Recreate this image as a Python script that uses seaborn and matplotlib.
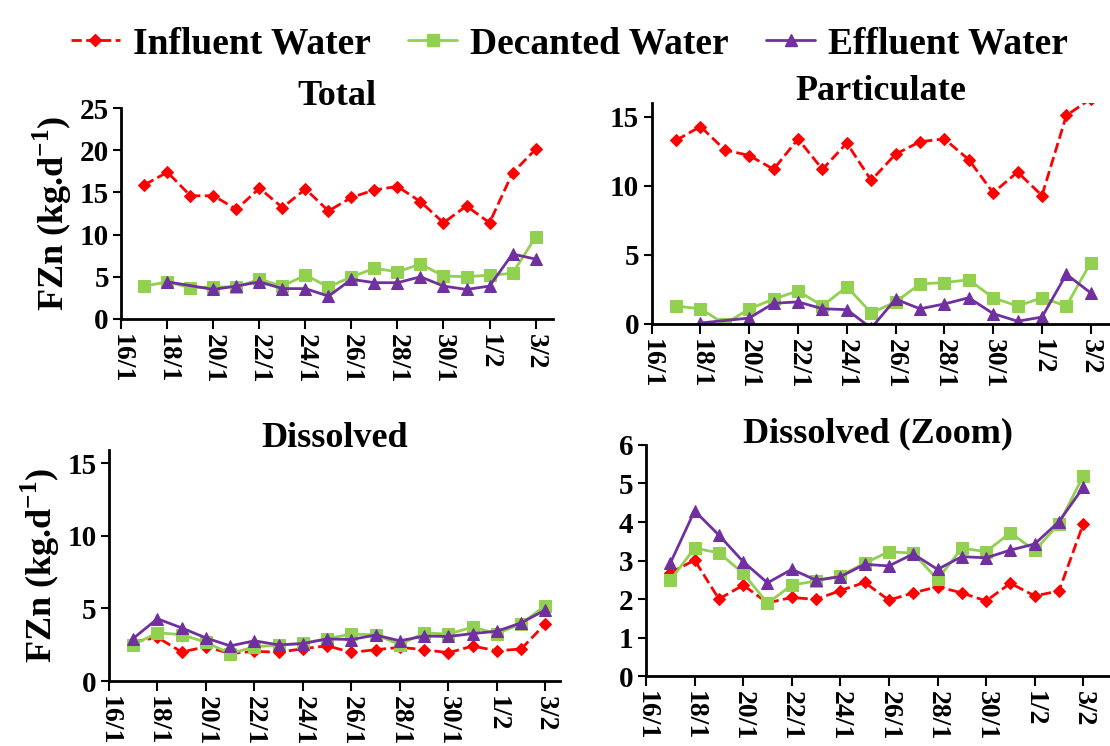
import matplotlib
matplotlib.use('Agg')
import matplotlib.pyplot as plt
import seaborn as sns
import numpy as np
import pandas as pd

# sampling dates (day/month), one sample a day
dates = ['17/1', '18/1', '19/1', '20/1', '21/1', '22/1', '23/1', '24/1', '25/1',
         '26/1', '27/1', '28/1', '29/1', '30/1', '31/1', '1/2', '2/2', '3/2']
tick_dates = ['16/1', '18/1', '20/1', '22/1', '24/1', '26/1', '28/1', '30/1', '1/2', '3/2']

# zinc fluxes (kg/d)
total_influent = [15.9, 17.4, 14.6, 14.6, 13.0, 15.5, 13.2, 15.4, 12.8,
                  14.4, 15.3, 15.7, 13.9, 11.4, 13.4, 11.4, 17.3, 20.1]
total_decanted = [3.9, 4.4, 3.7, 3.8, 3.8, 4.7, 3.9, 5.2, 3.8,
                  5.0, 6.0, 5.6, 6.5, 5.1, 5.0, 5.2, 5.4, 9.7]
total_effluent = [np.nan, 4.4, np.nan, 3.5, 3.9, 4.4, 3.6, 3.6, 2.7,
                  4.7, 4.3, 4.3, 5.0, 3.9, 3.5, 3.9, 7.7, 7.1]

part_influent = [13.3, 14.3, 12.6, 12.2, 11.2, 13.4, 11.2, 13.1, 10.4,
                 12.3, 13.2, 13.4, 11.9, 9.5, 11.0, 9.3, 15.1, 16.3]
part_decanted = [1.3, 1.1, 0.0, 1.1, 1.8, 2.4, 1.3, 2.7, 0.8,
                 1.6, 2.9, 3.0, 3.2, 1.9, 1.3, 1.9, 1.3, 4.45]
part_effluent = [np.nan, 0.07, np.nan, 0.43, 1.5, 1.6, 1.1, 1.04, -0.3,
                 1.8, 1.1, 1.45, 1.9, 0.75, 0.2, 0.5, 3.6, 2.25]

diss_influent = [2.68, 3.01, 2.0, 2.36, 1.9, 2.04, 1.99, 2.22, 2.43,
                 1.97, 2.16, 2.32, 2.16, 1.95, 2.41, 2.08, 2.21, 3.95]
diss_decanted = [2.49, 3.32, 3.2, 2.67, 1.89, 2.36, 2.47, 2.6, 2.93,
                 3.23, 3.19, 2.51, 3.32, 3.23, 3.72, 3.26, 3.95, 5.2]
diss_effluent = [2.93, 4.29, 3.66, 2.97, 2.42, 2.77, 2.49, 2.58, 2.9,
                 2.86, 3.17, 2.77, 3.1, 3.07, 3.27, 3.43, 4.01, 4.9]

series = ['Influent Water', 'Decanted Water', 'Effluent Water']
colors = ['#FF0000', '#92D050', '#7030A0']
markers = ['D', 's', '^']
msizes = [6, 8, 8.5]

# day offset from 16/1
start = pd.to_datetime('16/1/2014', dayfirst=True)
def day_of(d):
    return (pd.to_datetime(d + '/2014', dayfirst=True) - start).days

x_days = [day_of(d) for d in dates]
tick_pos = [day_of(d) for d in tick_dates]

sns.set_theme(style='white')
plt.rcParams['font.family'] = ['Liberation Serif', 'DejaVu Serif']
plt.rcParams['font.weight'] = 'bold'
plt.rcParams['mathtext.fontset'] = 'custom'
plt.rcParams['mathtext.rm'] = 'Liberation Serif:bold'
plt.rcParams['mathtext.bf'] = 'Liberation Serif:bold'
# pure black text like the original
for key in ['text.color', 'axes.labelcolor', 'xtick.color', 'ytick.color']:
    plt.rcParams[key] = 'black'

fig = plt.figure(figsize=(11.1, 7.46), dpi=100)

# axes rectangles
panels = [
    ('Total', [total_influent, total_decanted, total_effluent],
     [0.1094, 0.5724, 0.3888, 0.2828], (0, 18.76), (0, 25), [0, 5, 10, 15, 20, 25], True),
    ('Particulate', [part_influent, part_decanted, part_effluent],
     [0.5871, 0.5657, 0.4129, 0.2962], (0, 18.79), (0, 16.0), [0, 5, 10, 15], False),
    ('Dissolved', [diss_influent, diss_decanted, diss_effluent],
     [0.0981, 0.0871, 0.4064, 0.3097], (0, 18.6), (0, 15.92), [0, 5, 10, 15], True),
    ('Dissolved (Zoom)', [diss_influent, diss_decanted, diss_effluent],
     [0.582, 0.0938, 0.418, 0.3097], (0, 19.1), (0, 6), [0, 1, 2, 3, 4, 5, 6], False),
]

for title, values, rect, xlim, ylim, yticks, show_ylabel in panels:
    ax = fig.add_axes(rect)
    for i, (name, vals) in enumerate(zip(series, values)):
        df = pd.DataFrame({'day': x_days, 'flux': vals}).dropna()
        sns.lineplot(data=df, x='day', y='flux', ax=ax, color=colors[i], marker=markers[i],
                     markersize=msizes[i], markeredgecolor=colors[i], linewidth=2,
                     linestyle='--' if i == 0 else '-', legend=False)
    ax.set_xlim(*xlim)
    ax.set_ylim(*ylim)
    ax.set_yticks(yticks)
    ax.set_xticks(tick_pos)
    ax.set_xticklabels(tick_dates, rotation=-90, fontsize=20, fontweight='bold')
    ax.tick_params(axis='y', labelsize=21, length=6, width=1.5, direction='out', left=True, pad=3)
    ax.tick_params(axis='x', length=7, width=1.5, direction='out', bottom=True, pad=4)
    for lab in ax.get_yticklabels():
        lab.set_fontweight('bold')
    for s in ['top', 'right']:
        ax.spines[s].set_visible(False)
    for s in ['left', 'bottom']:
        ax.spines[s].set_color('black')
        ax.spines[s].set_linewidth(2)
    ax.set_xlabel('')
    if show_ylabel:
        ax.set_ylabel('FZn (kg.d$^{\\mathbf{-1}}$)', fontsize=26, fontweight='bold', labelpad=4)
    else:
        ax.set_ylabel('')
    ax.set_title(title, fontsize=26, fontweight='bold', pad=2)

# shared legend on top
handles = [plt.Line2D([], [], color=c, marker=m, markersize=ms, linewidth=2,
                      linestyle='--' if i == 0 else '-')
           for i, (c, m, ms) in enumerate(zip(colors, markers, msizes))]
fig.legend(handles, series, loc='upper center', bbox_to_anchor=(0.513, 1.01), ncol=3,
           frameon=False, prop={'size': 27, 'weight': 'bold'}, handlelength=1.3,
           handletextpad=0.35, columnspacing=1.0)

plt.savefig('out.png', dpi=100)
